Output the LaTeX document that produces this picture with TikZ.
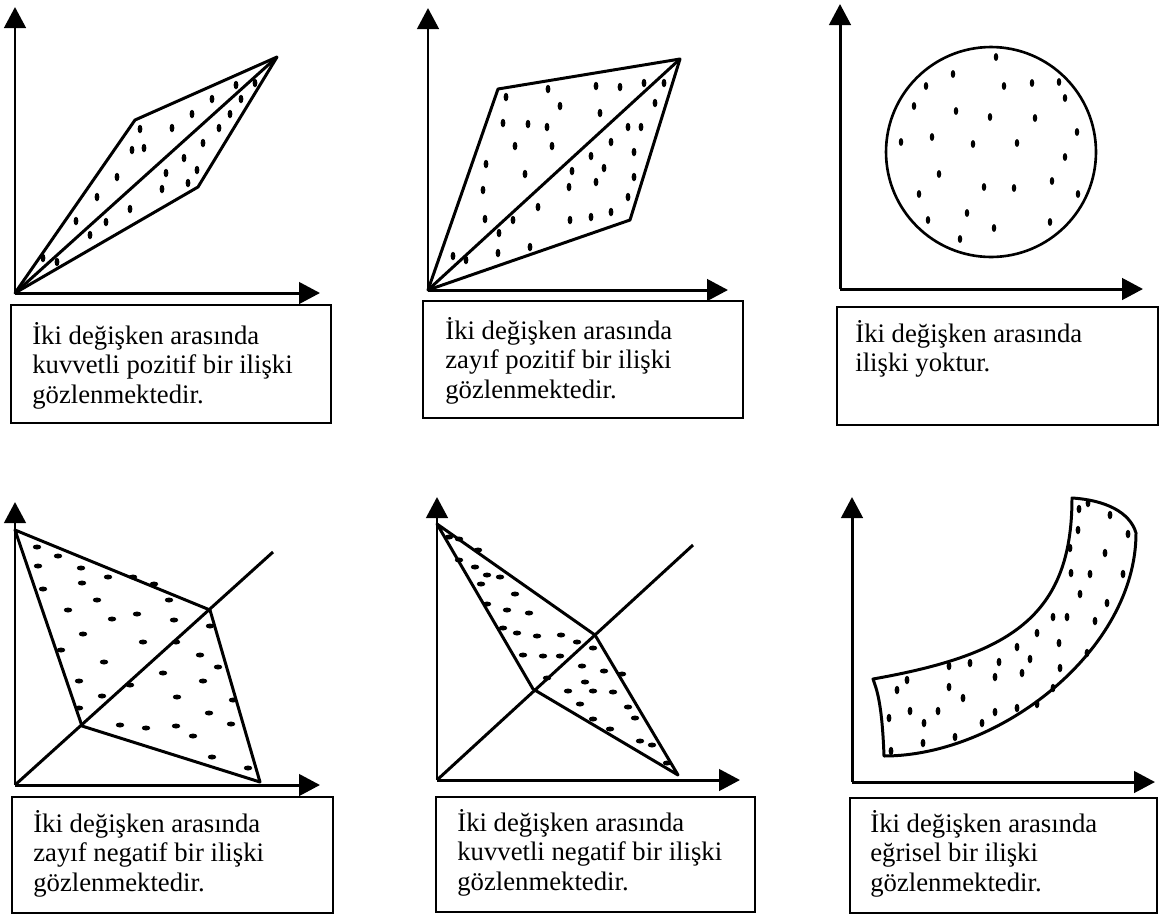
\documentclass[tikz,border=0pt]{standalone}
\usepackage{fontspec}
\setmainfont{Liberation Serif}
\usetikzlibrary{arrows.meta}

\begin{document}
\begin{tikzpicture}[x=0.02cm, y=-0.02cm,
    axis/.style={line width=1.7pt, -{Triangle[length=0.42cm, width=0.43cm]}},
    edge/.style={line width=1.7pt, line join=round},
    capbox/.style={line width=1.6pt},
    captext/.style={anchor=north west, inner sep=0pt, align=left,
                    font=\fontsize{15.2}{16.8}\selectfont},
  ]
  \useasboundingbox (0,0) rectangle (1159,917);

  % Panel 1: kuvvetli pozitif
  \coordinate (o1) at (15,293);
  \coordinate (y1) at (15,7);
  \coordinate (x1) at (320,293);
  \coordinate (a1) at (135,120);
  \coordinate (b1) at (277,57);
  \coordinate (c1) at (198,187);
  \draw[axis] (o1) -- (y1);
  \draw[axis] (o1) -- (x1);
  \draw[edge] (o1) -- (a1) -- (b1) -- (c1) -- cycle;
  \draw[edge] (o1) -- (b1);
  \foreach \px/\py in {236/85, 255/83, 212/99, 241/99, 192/114, 230/114, 140/129,
      172/128, 219/128, 132/150, 144/148, 203/143, 184/158, 117/177, 166/173,
      197/170, 188/183, 162/189, 97/197, 130/209, 76/221, 106/222, 90/235,
      43/258, 57/262}
    \fill (\px,\py) ellipse [x radius=0.048cm, y radius=0.085cm];
  \draw[capbox] (11,305) rectangle (331,423);
  \node[captext] (t1) at (32,322) {İki değişken arasında\\kuvvetli pozitif bir ilişki\\gözlenmektedir.};

  % Panel 2: zayif pozitif
  \coordinate (o2) at (428,290);
  \coordinate (y2) at (428,8);
  \coordinate (x2) at (728,290);
  \coordinate (a2) at (498,89);
  \coordinate (b2) at (680,59);
  \coordinate (c2) at (630,220);
  \draw[axis] (o2) -- (y2);
  \draw[axis] (o2) -- (x2);
  \draw[edge] (o2) -- (a2) -- (b2) -- (c2) -- cycle;
  \draw[edge] (o2) -- (b2);
  \foreach \px/\py in {548/89, 596/86, 620/87, 644/83, 664/83, 506/97, 560/106,
      600/113, 655/103, 503/123, 528/124, 547/127, 628/127, 641/127, 515/146,
      552/146, 611/142, 634/152, 486/164, 591/156, 572/171, 525/174, 604/168,
      634/177, 483/190, 569/187, 596/182, 628/197, 538/207, 485/219, 513/220,
      570/220, 591/217, 611/212, 499/233, 453/256, 466/260, 498/253, 530/247}
    \fill (\px,\py) ellipse [x radius=0.048cm, y radius=0.085cm];
  \draw[capbox] (423,301) rectangle (743,418);
  \node[captext] (t2) at (445,317) {İki değişken arasında\\zayıf pozitif bir ilişki\\gözlenmektedir.};

  % Panel 3: iliski yok
  \coordinate (o3) at (840,289);
  \coordinate (y3) at (840,4);
  \coordinate (x3) at (1143,289);
  \coordinate (m3) at (991,152);
  \draw[axis] (o3) -- (y3);
  \draw[axis] (o3) -- (x3);
  \draw[line width=1.5pt] (m3) circle (2.1cm);
  \foreach \px/\py in {996/57, 953/74, 926/86, 1004/86, 1032/83, 1059/82, 1065/98,
      914/106, 956/111, 990/117, 1035/118, 1077/132, 901/142, 932/137, 973/144,
      1017/143, 1065/157, 939/174, 984/187, 1014/188, 1052/181, 1078/194,
      919/194, 967/213, 928/220, 994/228, 1050/222, 960/239}
    \fill (\px,\py) ellipse [x radius=0.045cm, y radius=0.08cm];
  \draw[capbox] (837,307) rectangle (1158,425);
  \node[captext] (t3) at (855,320) {İki değişken arasında\\ilişki yoktur.};

  % Panel 4: zayif negatif
  \coordinate (o4) at (15,785);
  \coordinate (y4) at (15,502);
  \coordinate (x4) at (320,785);
  \coordinate (a4) at (15,530);
  \coordinate (b4) at (210,610);
  \coordinate (c4) at (260,782);
  \coordinate (d4) at (82,726);
  \coordinate (e4) at (273,552);
  \draw[axis] (o4) -- (y4);
  \draw[axis] (o4) -- (x4);
  \draw[edge] (a4) -- (b4) -- (c4) -- (d4) -- cycle;
  \draw[edge] (o4) -- (e4);
  \foreach \px/\py in {37/547, 58/556, 38/566, 81/568, 108/577, 133/577, 154/584,
      43/589, 82/583, 97/600, 169/600, 68/610, 112/619, 137/614, 174/620,
      210/626, 83/634, 143/642, 176/642, 61/650, 200/655, 218/667, 104/662,
      163/673, 79/681, 203/681, 130/685, 102/696, 177/697, 233/700, 79/708,
      209/713, 120/725, 146/728, 176/726, 193/736, 231/724, 212/757, 248/768}
    \fill (\px,\py) ellipse [x radius=0.085cm, y radius=0.05cm];
  \draw[capbox] (12,797) rectangle (333,913);
  \node[captext] (t4) at (33,810) {İki değişken arasında\\zayıf negatif bir ilişki\\gözlenmektedir.};

  % Panel 5: kuvvetli negatif
  \coordinate (o5) at (437,780);
  \coordinate (y5) at (437,497);
  \coordinate (x5) at (740,780);
  \coordinate (a5) at (437,524);
  \coordinate (b5) at (595,635);
  \coordinate (c5) at (678,775);
  \coordinate (d5) at (533,689);
  \coordinate (e5) at (693,545);
  \draw[axis] (o5) -- (y5);
  \draw[axis] (o5) -- (x5);
  \draw[edge] (a5) -- (b5) -- (c5) -- (d5) -- cycle;
  \draw[edge] (o5) -- (e5);
  \foreach \px/\py in {449/537, 459/539, 478/550, 459/560, 475/567, 487/575,
      500/577, 481/584, 515/594, 487/604, 507/610, 529/613, 503/628, 517/633,
      537/636, 561/635, 577/642, 593/648, 523/655, 543/656, 560/656, 582/666,
      604/671, 622/674, 547/678, 585/682, 568/691, 593/691, 613/692, 580/704,
      628/707, 593/719, 635/718, 610/729, 640/741, 652/745, 667/763}
    \fill (\px,\py) ellipse [x radius=0.085cm, y radius=0.05cm];
  \draw[capbox] (436,797) rectangle (755,912);
  \node[captext] (t5) at (457,809) {İki değişken arasında\\kuvvetli negatif bir ilişki\\gözlenmektedir.};

  % Panel 6: egrisel
  \coordinate (o6) at (852,782);
  \coordinate (y6) at (852,497);
  \coordinate (x6) at (1155,782);
  \draw[axis] (o6) -- (y6);
  \draw[axis] (o6) -- (x6);
  \draw[edge] (873,679) .. controls (1008,655) and (1072,618) .. (1072,498)
    .. controls (1105,500) and (1130,512) .. (1136,533)
    .. controls (1136,650) and (1000,756) .. (884,756)
    .. controls (882,700) and (876,688) .. (873,679) -- cycle;
  \foreach \px/\py in {1079/509, 1088/503, 1110/515, 1128/534, 1078/530,
      1070/548, 1105/553, 1123/574, 1071/573, 1090/574, 1080/594, 1107/603,
      1053/617, 1067/617, 1095/621, 1037/633, 1059/643, 1017/647, 1087/653,
      999/662, 1030/659, 1060/668, 970/663, 949/666, 1022/673, 995/677,
      907/680, 897/690, 949/687, 963/698, 1053/688, 1037/704, 1017/708,
      995/712, 938/711, 910/711, 889/718, 924/723, 982/723, 955/737, 923/743,
      891/751}
    \fill (\px,\py) ellipse [x radius=0.048cm, y radius=0.085cm];
  \draw[capbox] (850,798) rectangle (1157,913);
  \node[captext] (t6) at (870,810) {İki değişken arasında\\eğrisel bir ilişki\\gözlenmektedir.};
\end{tikzpicture}
\end{document}
